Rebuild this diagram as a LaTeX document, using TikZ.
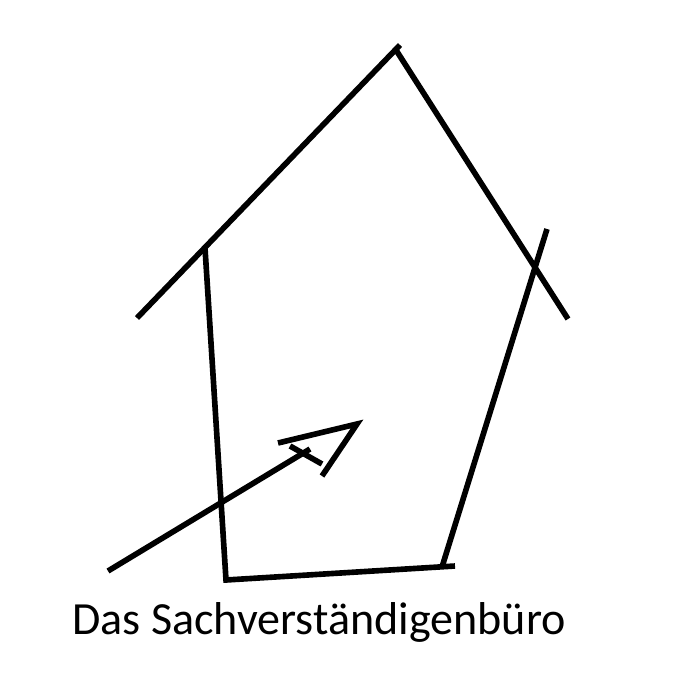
\documentclass[tikz,border=0pt]{standalone}
\usepackage{fontspec}
\setmainfont{Carlito}
\usetikzlibrary{positioning}

\begin{document}
\begin{tikzpicture}[x=0.01cm,y=-0.01cm,stroke/.style={line width=1.6pt}]
  \useasboundingbox (0,0) rectangle (700,700);
  % house
  \coordinate (roofL)  at (137,318);
  \coordinate (apex)   at (400,45);
  \coordinate (apexR)  at (396,50);
  \coordinate (roofR)  at (568,319);
  \coordinate (wallLt) at (205,248);
  \coordinate (wallLb) at (226,580);
  \coordinate (floorR) at (455,566);
  \coordinate (wallRb) at (442,567);
  \coordinate (wallRt) at (547,229);
  \draw[stroke] (roofL) -- (apex);
  \draw[stroke] (apexR) -- (roofR);
  \draw[stroke] (wallLt) -- (wallLb) -- (floorR);
  \draw[stroke] (wallRb) -- (wallRt);
  % arrow
  \coordinate (tail)  at (108,571);
  \coordinate (shaft) at (310,449);
  \coordinate (tip)   at (357,424);
  \coordinate (barL)  at (278,443);
  \coordinate (barR)  at (322,476);
  \coordinate (crossA) at (290,446);
  \coordinate (crossB) at (322,464);
  \draw[stroke] (tail) -- (shaft);
  \draw[stroke] (barL) -- (tip) -- (barR);
  \draw[stroke] (crossA) -- (crossB);
  % name
  \node[font=\fontsize{13.1pt}{16pt}\selectfont] (name) at (319,622) {Das Sachverständigenbüro};
\end{tikzpicture}
\end{document}
